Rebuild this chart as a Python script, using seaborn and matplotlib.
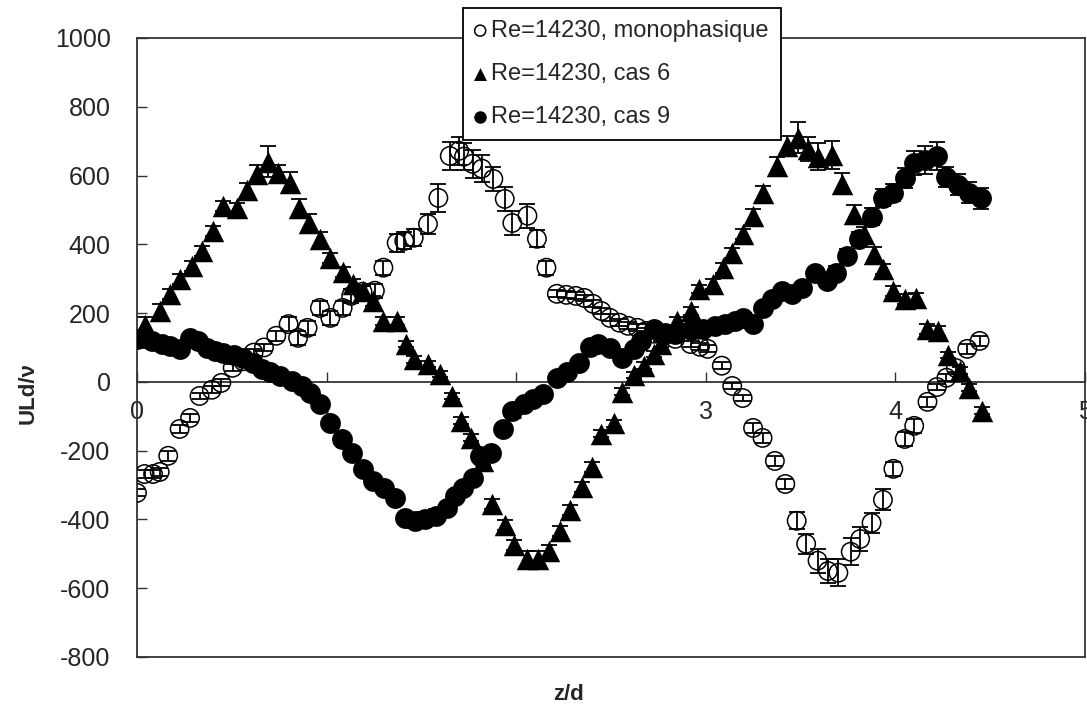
import numpy as np
import pandas as pd
import matplotlib
matplotlib.use("Agg")
import matplotlib.pyplot as plt
import seaborn as sns

# valeurs
x_mono = [0.00, 0.04, 0.085, 0.12, 0.165, 0.225, 0.28, 0.33, 0.395, 0.445,
          0.505, 0.56, 0.615, 0.67, 0.735, 0.80, 0.85, 0.90, 0.965, 1.02,
          1.085, 1.13, 1.19, 1.255, 1.30, 1.37, 1.41, 1.46, 1.535, 1.59,
          1.65, 1.70, 1.725, 1.77, 1.82, 1.88, 1.94, 1.98, 2.06, 2.11,
          2.16, 2.215, 2.265, 2.315, 2.36, 2.405, 2.45, 2.495, 2.545, 2.59,
          2.64, 2.685, 2.73, 2.78, 2.84, 2.92, 2.97, 3.01, 3.085, 3.14,
          3.195, 3.25, 3.30, 3.365, 3.42, 3.48, 3.53, 3.59, 3.645, 3.70,
          3.765, 3.815, 3.875, 3.935, 3.99, 4.05, 4.10, 4.17, 4.22, 4.27,
          4.32, 4.38, 4.445]
y_mono = [-323, -268, -268, -262, -215, -137, -105, -41, -23, -3,
          41, 60, 85, 100, 134, 168, 128, 157, 215, 186,
          215, 250, 262, 265, 332, 404, 410, 419, 459, 535,
          657, 672, 655, 634, 620, 590, 532, 462, 483, 416,
          332, 256, 253, 250, 244, 227, 206, 186, 172, 163,
          157, 148, 140, 134, 125, 110, 102, 96, 47, -12,
          -47, -134, -163, -230, -297, -404, -471, -520, -550, -555,
          -494, -457, -410, -343, -253, -166, -128, -58, -15, 12,
          40, 96, 119]
e_mono = [10, 12, 12, 12, 15, 12, 12, 10, 10, 10,
          10, 10, 10, 10, 15, 20, 20, 20, 20, 20,
          20, 20, 20, 20, 20, 25, 25, 25, 30, 40,
          40, 40, 40, 40, 40, 35, 35, 35, 35, 25,
          20, 10, 10, 10, 10, 10, 10, 10, 10, 10,
          10, 10, 10, 10, 10, 10, 10, 10, 10, 10,
          10, 15, 15, 15, 15, 25, 30, 35, 35, 40,
          40, 35, 30, 30, 20, 20, 20, 15, 10, 10,
          10, 15, 15]

x_cas6 = [0.04, 0.12, 0.175, 0.225, 0.29, 0.345, 0.40, 0.455, 0.53, 0.58,
          0.635, 0.69, 0.745, 0.805, 0.855, 0.905, 0.965, 1.02, 1.085, 1.14,
          1.19, 1.245, 1.30, 1.37, 1.42, 1.46, 1.535, 1.60, 1.66, 1.71,
          1.76, 1.825, 1.875, 1.94, 1.99, 2.06, 2.115, 2.175, 2.23, 2.285,
          2.35, 2.40, 2.45, 2.515, 2.56, 2.62, 2.675, 2.73, 2.765, 2.85,
          2.92, 2.965, 3.04, 3.09, 3.14, 3.195, 3.25, 3.30, 3.375, 3.43,
          3.485, 3.54, 3.59, 3.665, 3.72, 3.78, 3.835, 3.89, 3.935, 3.99,
          4.05, 4.11, 4.17, 4.225, 4.28, 4.34, 4.39, 4.455]
y_cas6 = [165, 206, 256, 300, 337, 381, 439, 512, 506, 558,
          605, 640, 606, 579, 506, 462, 416, 361, 320, 285,
          265, 236, 177, 177, 110, 66, 52, 23, -41, -113,
          -163, -230, -355, -416, -474, -516, -516, -493, -433, -372,
          -305, -247, -151, -120, -29, 20, 47, 81, 110, 177,
          206, 270, 285, 332, 375, 430, 483, 550, 628, 686,
          710, 677, 655, 660, 576, 488, 430, 372, 329, 265,
          241, 244, 154, 148, 78, 32, -17, -84]
e_cas6 = [25, 20, 15, 15, 15, 15, 15, 15, 15, 20,
          25, 45, 25, 30, 25, 25, 20, 15, 15, 15,
          15, 15, 12, 12, 10, 10, 10, 10, 10, 10,
          10, 12, 15, 15, 15, 25, 25, 20, 15, 15,
          15, 15, 10, 10, 10, 10, 10, 10, 10, 12,
          12, 12, 15, 15, 15, 15, 20, 20, 25, 30,
          45, 35, 40, 40, 30, 25, 20, 20, 15, 15,
          15, 15, 15, 15, 10, 10, 10, 10]

x_cas9 = [0.00, 0.035, 0.08, 0.13, 0.175, 0.225, 0.28, 0.32, 0.37, 0.41,
          0.455, 0.51, 0.56, 0.61, 0.66, 0.70, 0.755, 0.82, 0.87, 0.915,
          0.965, 1.02, 1.08, 1.135, 1.19, 1.245, 1.305, 1.36, 1.415, 1.465,
          1.52, 1.58, 1.635, 1.68, 1.72, 1.77, 1.81, 1.87, 1.93, 1.98,
          2.04, 2.09, 2.14, 2.215, 2.27, 2.33, 2.39, 2.43, 2.495, 2.56,
          2.62, 2.66, 2.73, 2.785, 2.84, 2.92, 2.985, 3.05, 3.10, 3.155,
          3.195, 3.25, 3.30, 3.35, 3.40, 3.455, 3.51, 3.575, 3.64, 3.69,
          3.745, 3.81, 3.875, 3.935, 3.99, 4.05, 4.10, 4.155, 4.22, 4.27,
          4.33, 4.39, 4.45]
y_cas9 = [125, 128, 119, 110, 105, 96, 128, 119, 99, 90,
          84, 78, 70, 55, 38, 28, 17, 3, -12, -32,
          -64, -119, -166, -206, -252, -288, -310, -338, -395, -404,
          -398, -390, -366, -331, -308, -279, -215, -206, -137, -84,
          -64, -49, -35, 12, 29, 55, 102, 110, 99, 70,
          96, 119, 154, 142, 140, 150, 154, 163, 168, 177,
          186, 168, 215, 241, 265, 256, 273, 317, 294, 317,
          366, 416, 480, 535, 550, 593, 637, 645, 657, 596,
          573, 550, 534]
e_cas9 = [8, 8, 8, 8, 8, 8, 8, 8, 8, 8,
          8, 8, 8, 8, 8, 8, 8, 8, 8, 8,
          8, 8, 8, 8, 8, 8, 8, 10, 15, 20,
          20, 20, 15, 10, 10, 10, 10, 10, 10, 10,
          10, 10, 10, 10, 10, 10, 10, 10, 10, 10,
          10, 10, 10, 10, 10, 10, 10, 10, 10, 10,
          10, 10, 10, 10, 10, 10, 10, 10, 15, 20,
          20, 20, 25, 25, 25, 30, 35, 40, 40, 30,
          30, 30, 30]

labels = ["Re=14230, monophasique", "Re=14230, cas 6", "Re=14230, cas 9"]

sns.set_style("white")
plt.rcParams["font.family"] = ["Liberation Sans", "DejaVu Sans"]
plt.rcParams["axes.unicode_minus"] = False

fig = plt.figure(figsize=(10.87, 7.11), dpi=100)
ax = fig.add_axes([0.126, 0.076, 0.872, 0.8706])

series = [
    (x_mono, y_mono, e_mono, dict(marker="o", s=175, facecolor="none", edgecolor="black", linewidth=1.1)),
    (x_cas6, y_cas6, e_cas6, dict(marker="^", s=240, color="black", edgecolor="black", linewidth=0)),
    (x_cas9, y_cas9, e_cas9, dict(marker="o", s=225, color="black", edgecolor="black", linewidth=0)),
]

for (xs, ys, es, kw), lab in zip(series, labels):
    df = pd.DataFrame({"z": xs, "u": ys})
    ax.errorbar(xs, ys, yerr=es, fmt="none", ecolor="black", elinewidth=1.3,
                capsize=6, capthick=1.3, zorder=2)
    sns.scatterplot(data=df, x="z", y="u", ax=ax, label=lab, zorder=3, **kw)

ax.set_xlim(0, 5)
ax.set_ylim(-800, 1000)
ax.set_xticks([0, 1, 2, 3, 4, 5])
ax.set_yticks(np.arange(-800, 1001, 200))

frame_col = "#333333"
for side in ["top", "right", "left", "bottom"]:
    ax.spines[side].set_color(frame_col)
    ax.spines[side].set_linewidth(1.3)
ax.spines["bottom"].set_position(("data", 0))
ax.spines["bottom"].set_zorder(1)
ax.axhline(-800, color=frame_col, lw=1.3, clip_on=False, zorder=1)

ax.tick_params(axis="x", direction="in", length=7, width=1, color=frame_col,
               labelsize=18, pad=13, bottom=True)
ax.tick_params(axis="y", direction="in", length=7, width=1, color=frame_col,
               labelsize=18, pad=19, left=True)
ax.xaxis.set_zorder(1)

ax.set_xlabel("z/d", fontsize=16, fontweight="bold")
ax.xaxis.set_label_coords(0.455, -0.043)
ax.set_ylabel("ULd/ν", fontsize=16, fontweight="bold")
ax.yaxis.set_label_coords(-0.104, 0.4265)

leg = ax.legend(loc="upper left", bbox_to_anchor=(0.426, 0.9887),
                bbox_transform=fig.transFigure, fontsize=17, frameon=True,
                fancybox=False, edgecolor="black", framealpha=1,
                handlelength=0.45, handletextpad=0.25, labelspacing=0.9,
                borderpad=0.5, borderaxespad=0, markerscale=0.6)
leg.get_frame().set_linewidth(1.3)
leg.set_zorder(5)

fig.savefig("out.png", dpi=100)
